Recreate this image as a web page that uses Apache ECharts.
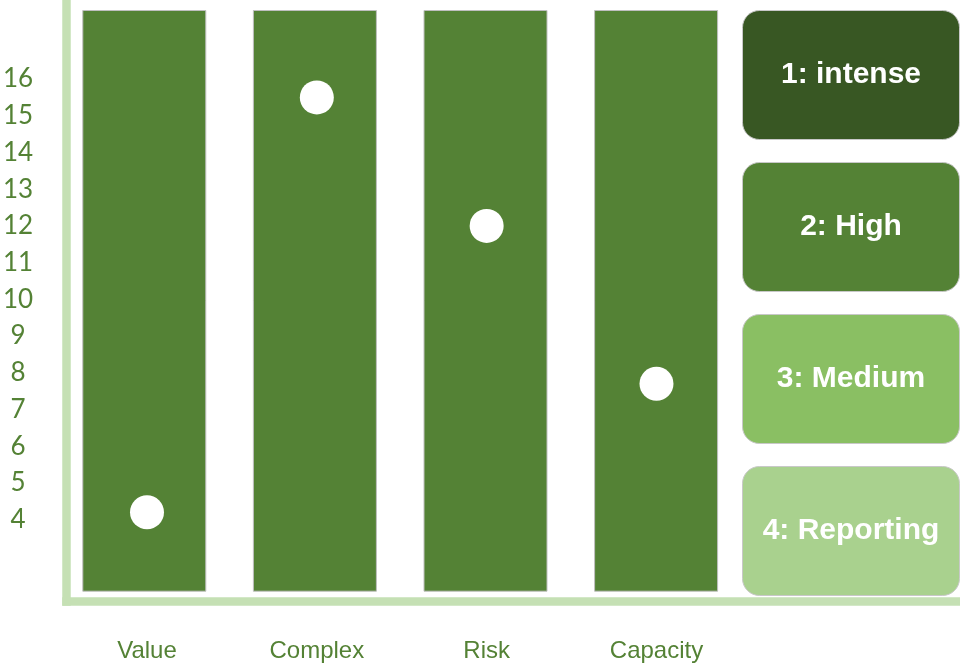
<!DOCTYPE html>
<html>
<head>
<meta charset="utf-8">
<style>
  html, body { margin: 0; padding: 0; background: #ffffff; }
  #chart { width: 960px; height: 663px; }
</style>
<script src="https://cdn.jsdelivr.net/npm/echarts@6/dist/echarts.min.js"></script>
</head>
<body>
<div id="chart"></div>
<script>
// Assessment dimensions shown as columns
const categories = ['Value', 'Complex', 'Risk', 'Capacity'];
// Score of each dimension (white marker)
const scores = [4.2, 15.5, 12, 7.7];
// Each column fills the full band height
const columnSpan = [1, 1, 1, 1];
// Range of tick labels printed on the score axis
const labelFrom = 4;
const labelTo = 16;
// Intensity levels listed on the right
const levels = ['1: intense', '2: High', '3: Medium', '4: Reporting'];

const levelColors = ['#385723', '#548235', '#8abf63', '#a9d18e'];
const green = '#548235';
const axisGreen = '#c5e0b4';

const chart = echarts.init(document.getElementById('chart'), null, { renderer: 'canvas' });

const plotLeft = 59;
const plotRight = 218.6;

const levelBoxes = levels.map((name, i) => ({
  type: 'rect',
  left: 742,
  top: 10 + i * 152,
  shape: { width: 217, height: 129, r: 17 },
  style: { fill: levelColors[i], stroke: '#c8c8c8', lineWidth: 1 },
  textContent: {
    style: {
      text: name,
      fill: '#ffffff',
      font: 'bold 30px "Liberation Sans", Arial, sans-serif'
    }
  },
  textConfig: { position: 'inside' }
}));

chart.setOption({
  animation: false,
  backgroundColor: '#ffffff',
  grid: [
    // score scale and category labels
    { left: plotLeft, right: plotRight, top: 5.6, bottom: 68.6 },
    // columns
    { left: plotLeft, right: plotRight, top: 10, bottom: 71.3 },
    // frame lines
    { left: 66.5, right: 0, top: 0, bottom: 61.5 }
  ],
  xAxis: [
    {
      gridIndex: 0, type: 'category', data: categories, boundaryGap: true,
      axisLine: { show: false }, axisTick: { show: false },
      axisLabel: {
        color: green, fontSize: 24, margin: 46,
        fontFamily: '"Liberation Sans", Arial, sans-serif'
      }
    },
    {
      gridIndex: 1, type: 'category', data: categories, boundaryGap: true,
      show: false
    },
    {
      gridIndex: 2, type: 'value', min: 0, max: 1,
      axisLine: { show: true, onZero: false, lineStyle: { color: axisGreen, width: 8.5, cap: 'square' } },
      axisTick: { show: false }, axisLabel: { show: false }, splitLine: { show: false }
    }
  ],
  yAxis: [
    {
      gridIndex: 0, type: 'value', min: 2, max: 18, interval: 1,
      axisLine: { show: false }, axisTick: { show: false }, splitLine: { show: false },
      axisLabel: {
        color: green, fontSize: 26, margin: 44, align: 'center',
        fontFamily: 'Lato, "Open Sans", sans-serif',
        formatter: v => (v >= labelFrom && v <= labelTo) ? String(v) : ''
      }
    },
    {
      gridIndex: 1, type: 'value', min: 0, max: 1, show: false
    },
    {
      gridIndex: 2, type: 'value', min: 0, max: 1,
      axisLine: { show: true, onZero: false, lineStyle: { color: axisGreen, width: 8.5, cap: 'square' } },
      axisTick: { show: false }, axisLabel: { show: false }, splitLine: { show: false }
    }
  ],
  series: [
    {
      type: 'bar',
      xAxisIndex: 1, yAxisIndex: 1,
      data: columnSpan,
      barWidth: 124,
      itemStyle: { color: green, borderColor: '#bfbfbf', borderWidth: 1 },
      silent: true
    },
    {
      type: 'scatter',
      xAxisIndex: 0, yAxisIndex: 0,
      data: scores,
      symbol: 'circle',
      symbolSize: 34,
      itemStyle: { color: '#ffffff', opacity: 1 },
      z: 5
    }
  ],
  graphic: levelBoxes
});
</script>
</body>
</html>
